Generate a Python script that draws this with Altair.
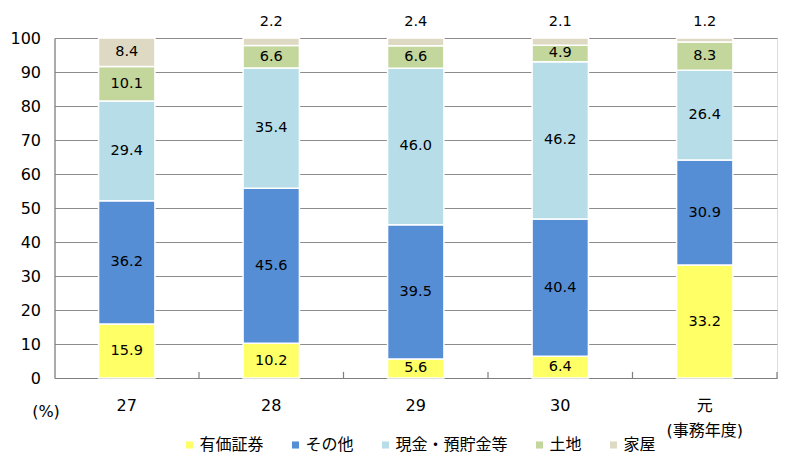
import altair as alt
import pandas as pd

categories = ["27", "28", "29", "30", "元"]
series = ["有価証券", "その他", "現金・預貯金等", "土地", "家屋"]
colors = ["#FFFF66", "#558ED5", "#B7DEE8", "#C3D69B", "#DDD9C3"]
yuka = [15.9, 10.2, 5.6, 6.4, 33.2]
sonota = [36.2, 45.6, 39.5, 40.4, 30.9]
genkin = [29.4, 35.4, 46.0, 46.2, 26.4]
tochi = [10.1, 6.6, 6.6, 4.9, 8.3]
kaoku = [8.4, 2.2, 2.4, 2.1, 1.2]
y_ticks = list(range(0, 101, 10))

rows = []
for ci, c in enumerate(categories):
    cum = 0.0
    for si, (s, vals) in enumerate(zip(series, [yuka, sonota, genkin, tochi, kaoku])):
        v = vals[ci]
        lo = cum
        cum = cum + v
        rows.append(dict(cat=c, series=s, value=v, order=si, lo=lo, hi=min(cum, 100.0),
                         mid=(lo + min(cum, 100.0)) / 2, label=f"{v:.1f}", small=v < 3))
df = pd.DataFrame(rows)
inside = df[~df["small"]]
above = df[df["small"]]
tick_df = pd.DataFrame({"cat": categories})

NUMFONT = "DejaVu Sans"
JPFONT = "DejaVu Sans, Noto Sans CJK JP"

x_scale = alt.Scale(paddingInner=0.61, paddingOuter=0.305)
x_axis = alt.Axis(
    title="(%)", titleX=-9, titleY=33, titleAngle=0, titleBaseline="middle",
    titleAlign="center", titleFontWeight="normal", titleFontSize=16, titleFont=JPFONT,
    titleColor="#000000",
    labelAngle=0, labelFontSize=16, labelFont=JPFONT, labelColor="#000000",
    labelPadding=19, ticks=False, domainColor="#7f7f7f", domainWidth=1.2,
    labelLineHeight=25,
    labelExpr="datum.value == '元' ? ['元', '(事務年度)'] : datum.label",
)
y_scale = alt.Scale(domain=[0, 100], nice=False, clamp=True)
y_axis = alt.Axis(values=y_ticks, grid=True, gridColor="#8c8c8c", gridWidth=1.2,
                  ticks=False, domainColor="#7f7f7f", domainWidth=1.2,
                  labelFontSize=16, labelFont=NUMFONT, labelColor="#000000",
                  labelPadding=14, labelOverlap=False)


def X():
    return alt.X("cat:N", sort=categories, scale=x_scale, axis=x_axis)


bars = alt.Chart(df).mark_bar(stroke="white", strokeWidth=1.5).encode(
    x=X(),
    y=alt.Y("lo:Q", scale=y_scale, title=None, axis=y_axis),
    y2="hi:Q",
    color=alt.Color("series:N", sort=series,
                    scale=alt.Scale(domain=series, range=colors),
                    legend=alt.Legend(orient="none", legendX=127, legendY=399,
                                      direction="horizontal", title=None,
                                      symbolType="square", symbolSize=50,
                                      symbolStrokeWidth=0, labelFontSize=16,
                                      labelFont="Noto Sans CJK JP", labelColor="#000000",
                                      columnPadding=23, labelOffset=2)),
    order="order:Q",
)

txt_in = alt.Chart(inside).mark_text(font=NUMFONT, fontSize=14.5, color="#000000").encode(
    x=X(),
    y=alt.Y("mid:Q", scale=y_scale, title=None, axis=y_axis),
    text="label:N",
)

txt_top = alt.Chart(above).mark_text(font=NUMFONT, fontSize=14.5, color="#000000", dy=-16).encode(
    x=X(),
    y=alt.Y("hi:Q", scale=y_scale, title=None, axis=y_axis),
    text="label:N",
)

cat_ticks = alt.Chart(tick_df).mark_rule(xOffset=72.25, color="#7f7f7f", strokeWidth=1.2).encode(
    x=X(),
    y=alt.datum(0, scale=y_scale, axis=y_axis, title=None),
    y2=alt.datum(1.8),
)

chart = alt.layer(bars, cat_ticks, txt_in, txt_top).properties(
    width=722.5, height=340,
    autosize=alt.AutoSizeParams(type="none"),
    padding={"left": 54.5, "top": 38, "right": 23, "bottom": 98},
).configure_view(stroke=None).configure(background="white")

chart.save("out.html", embed_options={"renderer": "svg", "actions": False})
